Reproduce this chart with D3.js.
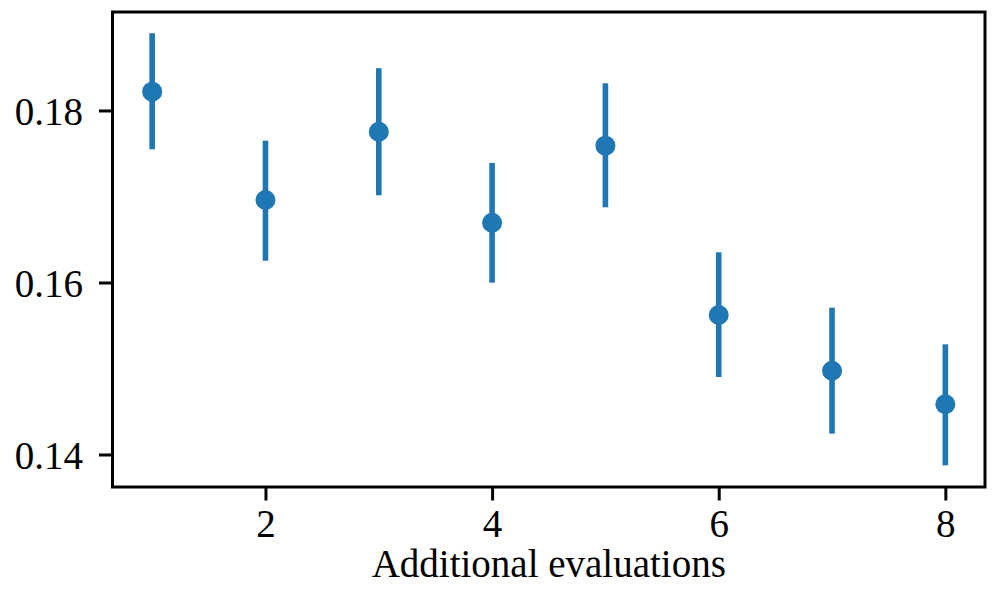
<!DOCTYPE html>
<html>
<head>
<meta charset="utf-8">
<script src="https://cdn.jsdelivr.net/npm/d3@7"></script>
<style>
  html, body { margin: 0; padding: 0; background: #fff; }
  svg { display: block; }
  text { font-family: "Liberation Serif", "DejaVu Serif", serif; fill: #000; }
</style>
</head>
<body>
<svg id="chart" width="997" height="616"></svg>
<script>
const xValues = [1, 2, 3, 4, 5, 6, 7, 8];
const meanValues = [0.18219, 0.16959, 0.17753, 0.16695, 0.17591, 0.15622, 0.14974, 0.14584];
const upperValues = [0.18898, 0.17649, 0.18491, 0.17390, 0.18316, 0.16351, 0.15707, 0.15281];
const lowerValues = [0.17549, 0.16253, 0.17014, 0.15998, 0.16874, 0.14901, 0.14242, 0.13874];
const xTicks = [2, 4, 6, 8];
const yTicks = [0.14, 0.16, 0.18];
const xLabel = "Additional evaluations";

(function () {
const svg = d3.select("#chart");
const mLeft = 112.5, mRight = 985, mTop = 12, mBottom = 487;

const x = d3.scaleLinear().domain([0.65, 8.35]).range([mLeft, mRight]);
const y = d3.scaleLinear().domain([0.13622, 0.19145]).range([mBottom, mTop]);

const color = "#1f77b4";
const fontSize = 39;

// Error bars
svg.append("g").selectAll("line")
  .data(xValues)
  .join("line")
  .attr("x1", (d) => x(d))
  .attr("x2", (d) => x(d))
  .attr("y1", (d, i) => y(lowerValues[i]))
  .attr("y2", (d, i) => y(upperValues[i]))
  .attr("stroke", color)
  .attr("stroke-width", 5.6);

// Markers
svg.append("g").selectAll("circle")
  .data(xValues)
  .join("circle")
  .attr("cx", (d) => x(d))
  .attr("cy", (d, i) => y(meanValues[i]))
  .attr("r", 10)
  .attr("fill", color);

// Axes
const xAxis = d3.axisBottom(x).tickValues(xTicks).tickFormat(d3.format("d"))
  .tickSize(13.5).tickPadding(9);
const yAxis = d3.axisLeft(y).tickValues(yTicks).tickFormat(d3.format(".2f"))
  .tickSize(13.5).tickPadding(16);

const gx = svg.append("g").attr("transform", `translate(0,${mBottom})`).call(xAxis);
const gy = svg.append("g").attr("transform", `translate(${mLeft},0)`).call(yAxis);

[gx, gy].forEach((g) => {
  g.select(".domain").remove();
  g.selectAll(".tick line").attr("stroke", "#000").attr("stroke-width", 3);
  g.selectAll(".tick text").attr("font-size", fontSize)
    .style("font-family", '"Liberation Serif", "DejaVu Serif", serif').attr("fill", "#000");
});
gy.selectAll(".tick text").attr("dy", "0.36em");

// Frame
svg.append("rect")
  .attr("x", mLeft).attr("y", mTop)
  .attr("width", mRight - mLeft).attr("height", mBottom - mTop)
  .attr("fill", "none").attr("stroke", "#000").attr("stroke-width", 3);

// X label
svg.append("text")
  .attr("x", (mLeft + mRight) / 2)
  .attr("y", 577)
  .attr("text-anchor", "middle")
  .attr("font-size", fontSize)
  .text(xLabel);
})();
</script>
</body>
</html>
